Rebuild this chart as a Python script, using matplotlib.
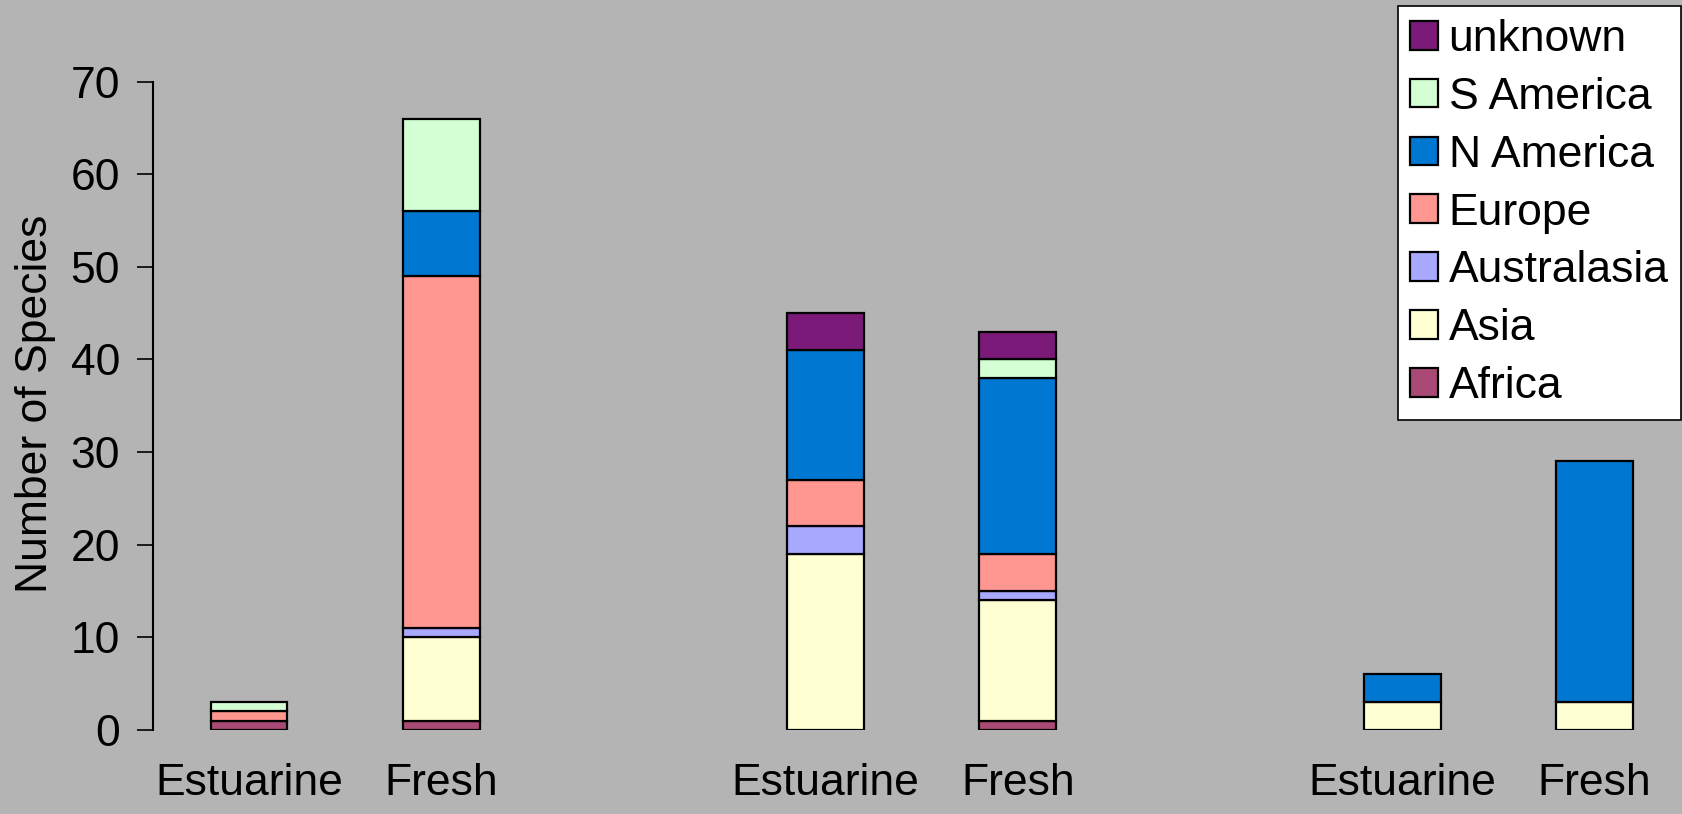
import numpy as np
import matplotlib
matplotlib.use("Agg")
import matplotlib.pyplot as plt
from matplotlib.patches import Patch

# Habitat of each bar within a group (three groups of two bars)
habitats = ["Estuarine", "Fresh"]
n_groups = 3

# Origin regions, stacked bottom to top
regions = ["Africa", "Asia", "Australasia", "Europe", "N America", "S America", "unknown"]
colors = ["#A84A75", "#FFFFD4", "#A8A8FF", "#FF9690", "#0077D0", "#D4FFD4", "#7B1A78"]

# Number of species per region, one entry per bar:
# group1 Estuarine, group1 Fresh, group2 Estuarine, group2 Fresh, group3 Estuarine, group3 Fresh
africa      = [1, 1, 0, 1, 0, 0]
asia        = [0, 9, 19, 13, 3, 3]
australasia = [0, 1, 3, 1, 0, 0]
europe      = [1, 38, 5, 4, 0, 0]
n_america   = [0, 7, 14, 19, 3, 26]
s_america   = [1, 10, 0, 2, 0, 0]
unknown     = [0, 0, 4, 3, 0, 0]

series = [africa, asia, australasia, europe, n_america, s_america, unknown]

plt.rcParams["font.family"] = ["Liberation Sans", "DejaVu Sans"]
bg = "#B4B4B4"
fs = 32

fig = plt.figure(figsize=(16.83, 8.14), dpi=100, facecolor=bg)
ax = fig.add_axes([152.9 / 1683, 84 / 814, (1683 - 152.9) / 1683, (730 - 81.6) / 814])
ax.set_facecolor(bg)

x = np.array([g * 3 + j for g in range(n_groups) for j in range(len(habitats))], dtype=float)
labels = [h for g in range(n_groups) for h in habitats]

bottom = np.zeros(len(x))
for name, vals, col in zip(regions, series, colors):
    vals = np.array(vals, dtype=float)
    lw = np.where(vals > 0, 1.6, 0.0)
    ax.bar(x, vals, width=0.4, bottom=bottom, color=col,
           edgecolor="black", linewidth=lw, zorder=3)
    bottom += vals

ax.set_xlim(-0.5, 7.46)
ax.set_ylim(0, 70)
ax.set_yticks(range(0, 71, 10))
ax.set_xticks(x)
ax.set_xticklabels(labels)

for side in ["top", "right", "bottom"]:
    ax.spines[side].set_visible(False)
ax.spines["left"].set_linewidth(1.5)
ax.spines["left"].set_color("black")

ax.tick_params(axis="y", direction="out", length=11.5, width=1.2, pad=12, labelsize=fs)
ax.tick_params(axis="x", length=0, pad=24, labelsize=fs)

fig.text(36 / 1683, 0.504, "Number of Species", rotation=90, fontsize=fs,
         ha="center", va="center")

# Legend lists the regions top to bottom in reverse stacking order
handles = [Patch(facecolor=c, edgecolor="black", linewidth=1.6) for c in colors]
leg = ax.legend(handles[::-1], regions[::-1], loc="upper right",
                bbox_to_anchor=(1681 / 1683, (814 - 6.4) / 814),
                bbox_transform=fig.transFigure, borderaxespad=0,
                fontsize=fs, frameon=True, fancybox=False, shadow=False,
                handlelength=0.62, handleheight=0.62, handletextpad=0.24,
                labelspacing=0.38, borderpad=0.28)
leg.get_frame().set_facecolor("white")
leg.get_frame().set_edgecolor("black")
leg.get_frame().set_linewidth(1.2)
leg.get_frame().set_alpha(1)

fig.savefig("out.png", dpi=100, facecolor=bg)
